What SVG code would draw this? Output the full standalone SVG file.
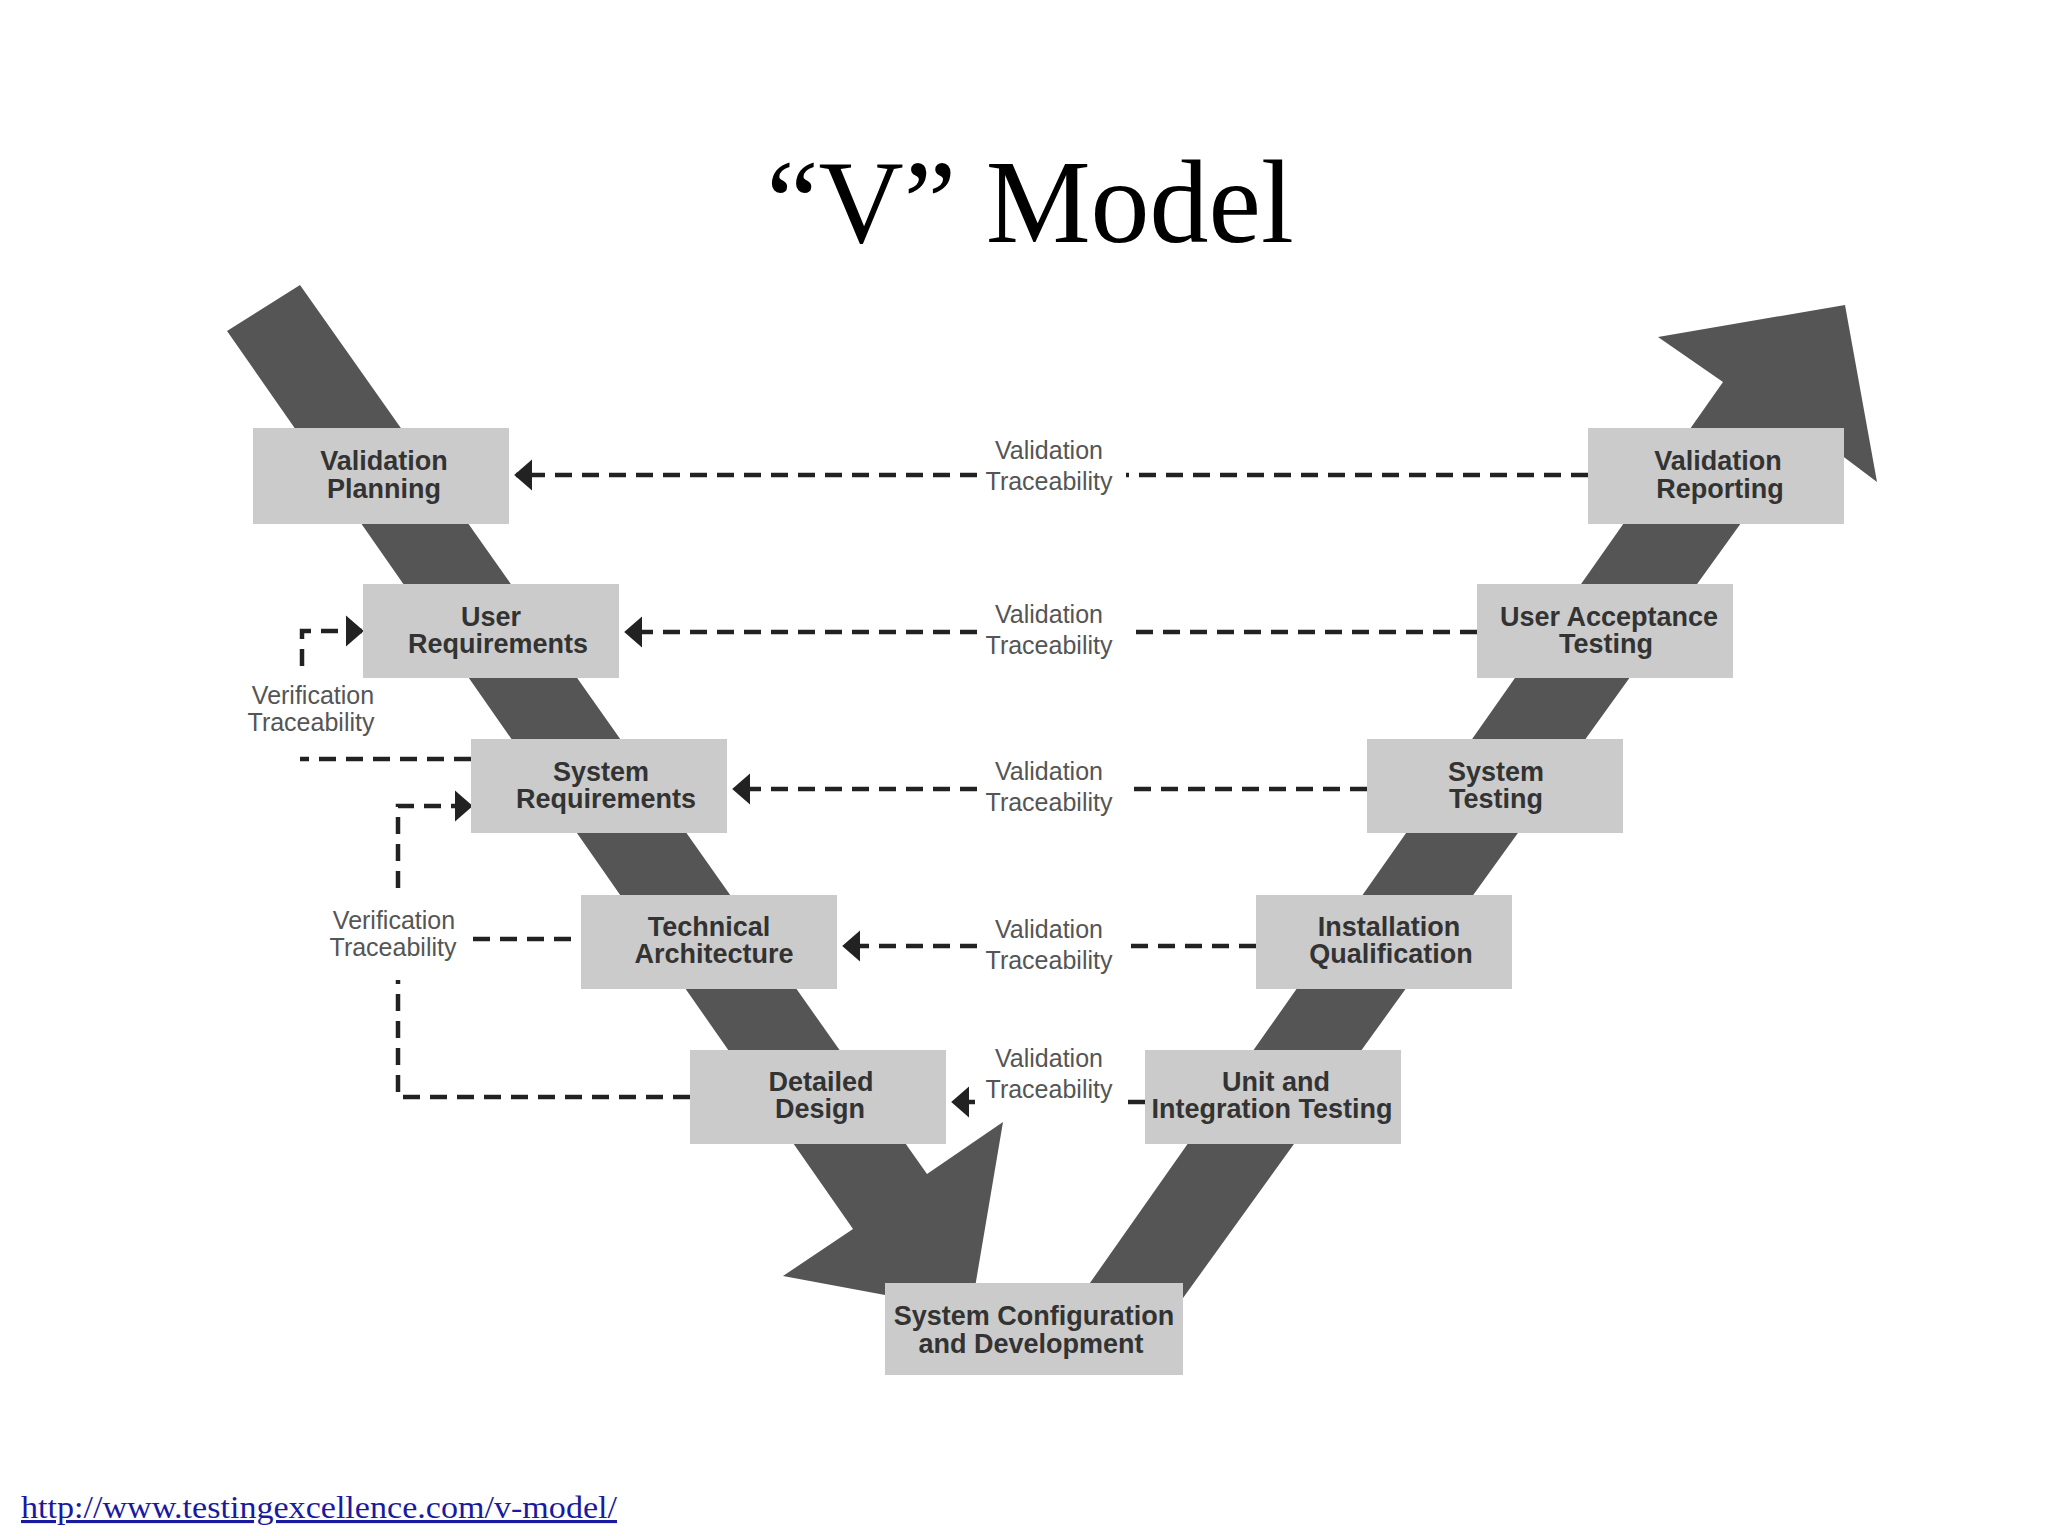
<svg xmlns="http://www.w3.org/2000/svg" width="2048" height="1536" viewBox="0 0 2048 1536">
<style>
.box{fill:#cbcbcb}
.bt{font-family:"Liberation Sans",Arial,sans-serif;font-weight:bold;font-size:27px;fill:#333;text-anchor:middle}
.lt{font-family:"Liberation Sans",Arial,sans-serif;font-size:25px;fill:#555;text-anchor:middle}
.band{fill:#555}
.d{fill:none;stroke:#222;stroke-width:4.5;stroke-dasharray:17 10}
</style>
<defs>
<marker id="ah" viewBox="0 0 10 10" refX="9" refY="5" markerWidth="4" markerHeight="7" markerUnits="strokeWidth" orient="auto" preserveAspectRatio="none">
<path d="M0,0L10,5L0,10z" fill="#222"/>
</marker>
</defs>
<rect width="2048" height="1536" fill="#fff"/>
<text x="1030" y="242" font-family="'Liberation Serif',serif" font-size="118" text-anchor="middle" fill="#000">“V” Model</text>
<g id="vleft"><polygon class="band" points="227,331 300,285 927,1174 1003,1122 971,1311 783,1276 853,1229"/></g>
<g id="vright"><polygon class="band" points="1085,1290 1723,382 1658,337 1845,305 1877,482 1808,430 1160,1330"/></g>
<g id="connectors">
<path class="d" d="M1588,475H1126M977,475H516" marker-end="url(#ah)"/>
<path class="d" d="M1477,632H1126M977,632H626" marker-end="url(#ah)"/>
<path class="d" d="M1367,789H1126M977,789H734" marker-end="url(#ah)"/>
<path class="d" d="M1256,946H1126M977,946H844" marker-end="url(#ah)"/>
<path class="d" d="M1145,1102H1126" />
<path class="d" d="M975,1102H953" marker-end="url(#ah)"/>
<path class="d" d="M471,759H300"/>
<path class="d" d="M302,666V631H362" marker-end="url(#ah)"/>
<path class="d" d="M690,1097H398V980"/>
<path class="d" d="M473,939H592"/>
<path class="d" d="M398,888V806H471" marker-end="url(#ah)"/>
<text class="lt" x="1049" y="459">Validation</text><text class="lt" x="1049" y="490">Traceability</text>
<text class="lt" x="1049" y="623">Validation</text><text class="lt" x="1049" y="654">Traceability</text>
<text class="lt" x="1049" y="780">Validation</text><text class="lt" x="1049" y="811">Traceability</text>
<text class="lt" x="1049" y="938">Validation</text><text class="lt" x="1049" y="969">Traceability</text>
<text class="lt" x="1049" y="1067">Validation</text><text class="lt" x="1049" y="1098">Traceability</text>
<text class="lt" x="313" y="704">Verification</text><text class="lt" x="311" y="731">Traceability</text>
<text class="lt" x="394" y="929">Verification</text><text class="lt" x="393" y="956">Traceability</text>
</g>
<g id="n1"><rect class="box" x="253" y="428" width="256" height="96"/><text class="bt" x="384" y="470">Validation</text><text class="bt" x="384" y="498">Planning</text></g>
<g id="n2"><rect class="box" x="363" y="584" width="256" height="94"/><text class="bt" x="491" y="626">User</text><text class="bt" x="498" y="653">Requirements</text></g>
<g id="n3"><rect class="box" x="471" y="739" width="256" height="94"/><text class="bt" x="601" y="781">System</text><text class="bt" x="606" y="808">Requirements</text></g>
<g id="n4"><rect class="box" x="581" y="895" width="256" height="94"/><text class="bt" x="709" y="936">Technical</text><text class="bt" x="714" y="963">Architecture</text></g>
<g id="n5"><rect class="box" x="690" y="1050" width="256" height="94"/><text class="bt" x="821" y="1091">Detailed</text><text class="bt" x="820" y="1118">Design</text></g>
<g id="n6"><rect class="box" x="885" y="1283" width="298" height="92"/><text class="bt" x="1034" y="1325">System Configuration</text><text class="bt" x="1031" y="1353">and Development</text></g>
<g id="n7"><rect class="box" x="1145" y="1050" width="256" height="94"/><text class="bt" x="1276" y="1091">Unit and</text><text class="bt" x="1272" y="1118">Integration Testing</text></g>
<g id="n8"><rect class="box" x="1256" y="895" width="256" height="94"/><text class="bt" x="1389" y="936">Installation</text><text class="bt" x="1391" y="963">Qualification</text></g>
<g id="n9"><rect class="box" x="1367" y="739" width="256" height="94"/><text class="bt" x="1496" y="781">System</text><text class="bt" x="1496" y="808">Testing</text></g>
<g id="n10"><rect class="box" x="1477" y="584" width="256" height="94"/><text class="bt" x="1609" y="626">User Acceptance</text><text class="bt" x="1606" y="653">Testing</text></g>
<g id="n11"><rect class="box" x="1588" y="428" width="256" height="96"/><text class="bt" x="1718" y="470">Validation</text><text class="bt" x="1720" y="498">Reporting</text></g>
<text x="21" y="1518" font-family="'Liberation Serif',serif" font-size="31" fill="#1a1aa0" text-decoration="underline" textLength="596" lengthAdjust="spacingAndGlyphs">http://www.testingexcellence.com/v-model/</text>
</svg>
